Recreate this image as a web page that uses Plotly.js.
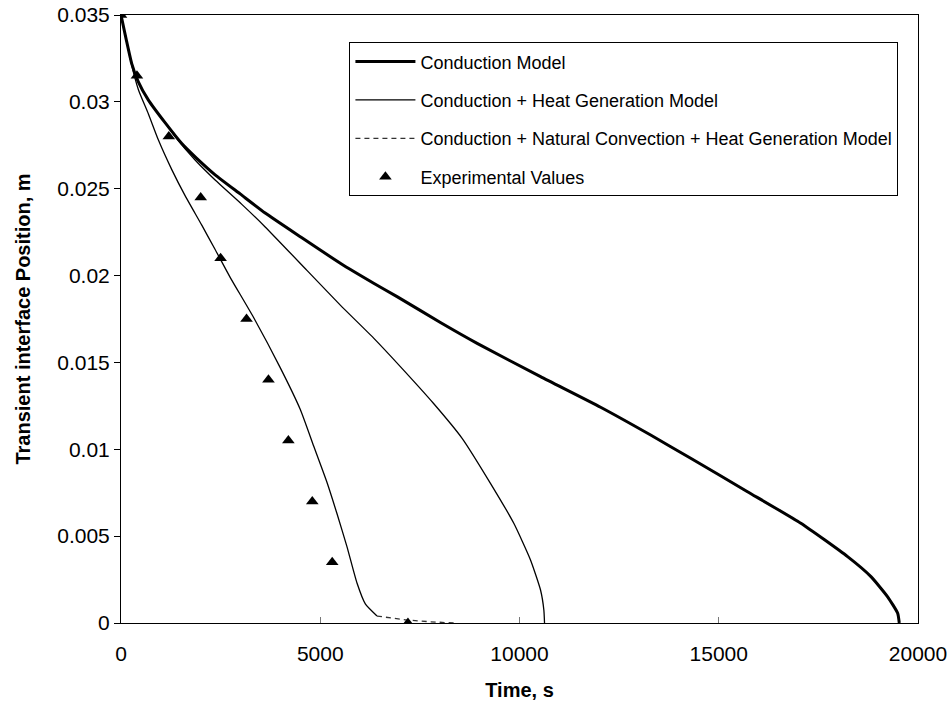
<!DOCTYPE html>
<html><head><meta charset="utf-8">
<script src="https://cdn.plot.ly/plotly-3.0.1.min.js"></script>
<style>html,body{margin:0;padding:0;background:#fff}#chart{width:952px;height:709px}</style>
</head><body><div id="chart"></div><script>
// Conduction Model
const condT = [0,130,269,426,688,1106,1525,1900,2362,2990,3618,4497,5503,6340,6927,8015,8937,10528,12035,13291,14296,15721,17060,18233,18819,19238,19490,19530];
const condY = [0.035,0.0336,0.0322,0.0312,0.0301,0.0288,0.0276,0.02675,0.0258,0.0247,0.0236,0.02224,0.02071,0.01956,0.01879,0.0173,0.0161,0.01418,0.01242,0.01082,0.00948,0.00756,0.00574,0.00382,0.00267,0.00151,0.00056,0];
// Conduction + Heat Generation Model
const heatT = [0,130,269,426,688,1106,1357,1859,2362,3032,3618,4666,5503,6340,7010,7839,8560,9271,9857,10276,10528,10611,10628];
const heatY = [0.035,0.0336,0.0322,0.0312,0.0301,0.0288,0.028,0.02665,0.0255,0.0241,0.0228,0.0203,0.0183,0.0164,0.01476,0.01265,0.01063,0.00804,0.00574,0.00363,0.0019,0.00075,0];
// Conduction + Natural Convection + Heat Generation Model
const convT = [0,130,269,437,688,939,1274,1608,2027,2362,2739,3324,3995,4497,4832,5168,5419,5670,5922,6131,6424,7178,7764,8350];
const convY = [0.035,0.0336,0.0321,0.0307,0.0293,0.0278,0.0261,0.0246,0.0229,0.0215,0.0199,0.0176,0.0147,0.0123,0.0102,0.0081,0.0063,0.0044,0.0023,0.0011,0.0004,0.00017,0.00007,0];
const convTailStart = 6424;
// Experimental Values
const expT = [0,400,1200,2000,2500,3150,3700,4200,4800,5300,7200];
const expY = [0.035,0.0315,0.028,0.0245,0.021,0.0175,0.014,0.0105,0.007,0.0035,0];

const xTicks = [0,5000,10000,15000,20000];
const yTicks = [0,0.005,0.01,0.015,0.02,0.025,0.03,0.035];
const yTickText = ['0','0.005','0.01','0.015','0.02','0.025','0.03','0.035'];

const names = ['Conduction Model','Conduction + Heat Generation Model','Conduction + Natural Convection + Heat Generation Model','Experimental Values'];

const split = convT.indexOf(convTailStart);
const smooth = {shape:'spline', smoothing:0.5};

const traces = [
  {x:condT, y:condY, mode:'lines', name:names[0], legendgroup:'a', line:Object.assign({color:'#000', width:3}, smooth)},
  {x:heatT, y:heatY, mode:'lines', name:names[1], legendgroup:'b', line:Object.assign({color:'#000', width:1.3}, smooth)},
  {x:convT.slice(0,split+1), y:convY.slice(0,split+1), mode:'lines', name:names[2], legendgroup:'c', showlegend:false, line:Object.assign({color:'#000', width:1.3}, smooth)},
  {x:convT.slice(split), y:convY.slice(split), mode:'lines', name:names[2], legendgroup:'c', line:{color:'#333', width:1.3, dash:'5px,4px'}},
  {x:expT, y:expY, mode:'markers', name:names[3], legendgroup:'d', marker:{symbol:'triangle-up', size:11, color:'#000'}}
];

const font = 'Liberation Sans, Arial, sans-serif';
const layout = {
  width:952, height:709,
  margin:{l:121, r:34, t:15, b:86},
  paper_bgcolor:'#fff', plot_bgcolor:'#fff',
  font:{family:font, color:'#000', size:20},
  showlegend:true,
  legend:{x:0.2866, y:0.955, xanchor:'left', yanchor:'top', bgcolor:'#fff', bordercolor:'#000', borderwidth:1,
    font:{family:font, size:18, color:'#000'}, tracegroupgap:12, itemwidth:60},
  xaxis:{range:[0,20000], tickvals:xTicks, ticktext:xTicks.map(String), ticks:'inside', ticklen:6, tickcolor:'#777',
    showline:true, linecolor:'#000', linewidth:1, mirror:true, showgrid:false, zeroline:false, ticklabelstandoff:12,
    tickfont:{size:21}, title:{text:'<b>Time, s</b>', font:{size:20}, standoff:18}},
  yaxis:{range:[0,0.035], tickvals:yTicks, ticktext:yTickText, ticks:'outside', ticklen:6, tickcolor:'#000',
    showline:true, linecolor:'#000', linewidth:1, mirror:true, showgrid:false, zeroline:false,
    tickfont:{size:21}, title:{text:'<b>Transient interface Position, m</b>', font:{size:20}, standoff:21}}
};
Plotly.newPlot('chart', traces, layout, {displayModeBar:false, staticPlot:true});
</script></body></html>
